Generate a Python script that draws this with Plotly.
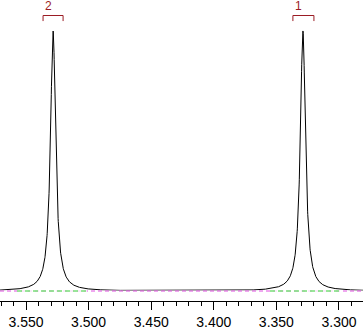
import numpy as np
import plotly.graph_objects as go

# Peak data (ppm, relative height, half-width at half-max in ppm)
peak_labels = ["1", "2"]
peak_centers = [3.3288, 3.5284]
peak_heights = [1.0, 1.0]
peak_hwhm = [0.0025, 0.0025]

# Integration regions (ppm)
integ_left = [3.3551, 3.5572]
integ_right = [3.2992, 3.5013]
# Integral bracket extents (ppm)
bracket_left = [3.3368, 3.5364]
bracket_right = [3.3200, 3.5204]

x_range = [3.5708, 3.2808]
tick_vals = [3.55, 3.50, 3.45, 3.40, 3.35, 3.30]
tick_text = ["3.550", "3.500", "3.450", "3.400", "3.350", "3.300"]

ppm = np.linspace(x_range[0], x_range[1], 2400)
intensity = np.zeros_like(ppm)
for c, h, w in zip(peak_centers, peak_heights, peak_hwhm):
    intensity += h / (1 + ((ppm - c) / w) ** 2)

fig = go.Figure()
fig.add_trace(go.Scatter(x=ppm, y=intensity, mode="lines",
                         line=dict(color="black", width=1), hoverinfo="skip"))
# baseline (magenta dashed) over whole range
fig.add_trace(go.Scatter(x=[x_range[0], x_range[1]], y=[0, 0], mode="lines",
                         line=dict(color="white", width=1.2), hoverinfo="skip"))
fig.add_trace(go.Scatter(x=[x_range[0], x_range[1]], y=[0, 0], mode="lines",
                         line=dict(color="#e050e0", width=1, dash="4px,3px"), hoverinfo="skip"))
for l, r in zip(integ_left, integ_right):
    fig.add_trace(go.Scatter(x=[l, r], y=[0, 0], mode="lines",
                             line=dict(color="white", width=1.5), hoverinfo="skip"))
    fig.add_trace(go.Scatter(x=[l, r], y=[0, 0], mode="lines",
                             line=dict(color="#33cc33", width=1, dash="5px,3px"), hoverinfo="skip"))

shapes = []
annotations = []
for lab, l, r in zip(peak_labels, bracket_left, bracket_right):
    shapes.append(dict(type="path", xref="x", yref="paper",
                       path=f"M {l},0.930 L {l},0.9485 L {r},0.9485 L {r},0.930",
                       line=dict(color="#9b1c24", width=1)))
    annotations.append(dict(x=l, y=0.98, xref="x", yref="paper", text=lab,
                            showarrow=False, xanchor="left", yanchor="middle", xshift=0,
                            font=dict(family="Liberation Sans", size=12, color="#9b1c24")))

fig.update_layout(
    width=363, height=329,
    margin=dict(l=0, r=0, t=0, b=28),
    paper_bgcolor="white", plot_bgcolor="white",
    showlegend=False,
    shapes=shapes, annotations=annotations,
    xaxis=dict(range=x_range, tickvals=tick_vals, ticktext=tick_text,
               showgrid=False, zeroline=False, showline=True, linecolor="black", linewidth=1,
               ticks="outside", ticklen=8, tickcolor="black", tickwidth=1,
               tickfont=dict(family="Liberation Sans Narrow, Liberation Sans", size=14, color="black"),
               minor=dict(dtick=0.01, tick0=3.30, ticks="outside", ticklen=4,
                          tickcolor="black", showgrid=False)),
    yaxis=dict(range=[-10/260, 1 + 31/260], visible=False, showgrid=False, zeroline=False),
)
fig.write_html("out.html")
